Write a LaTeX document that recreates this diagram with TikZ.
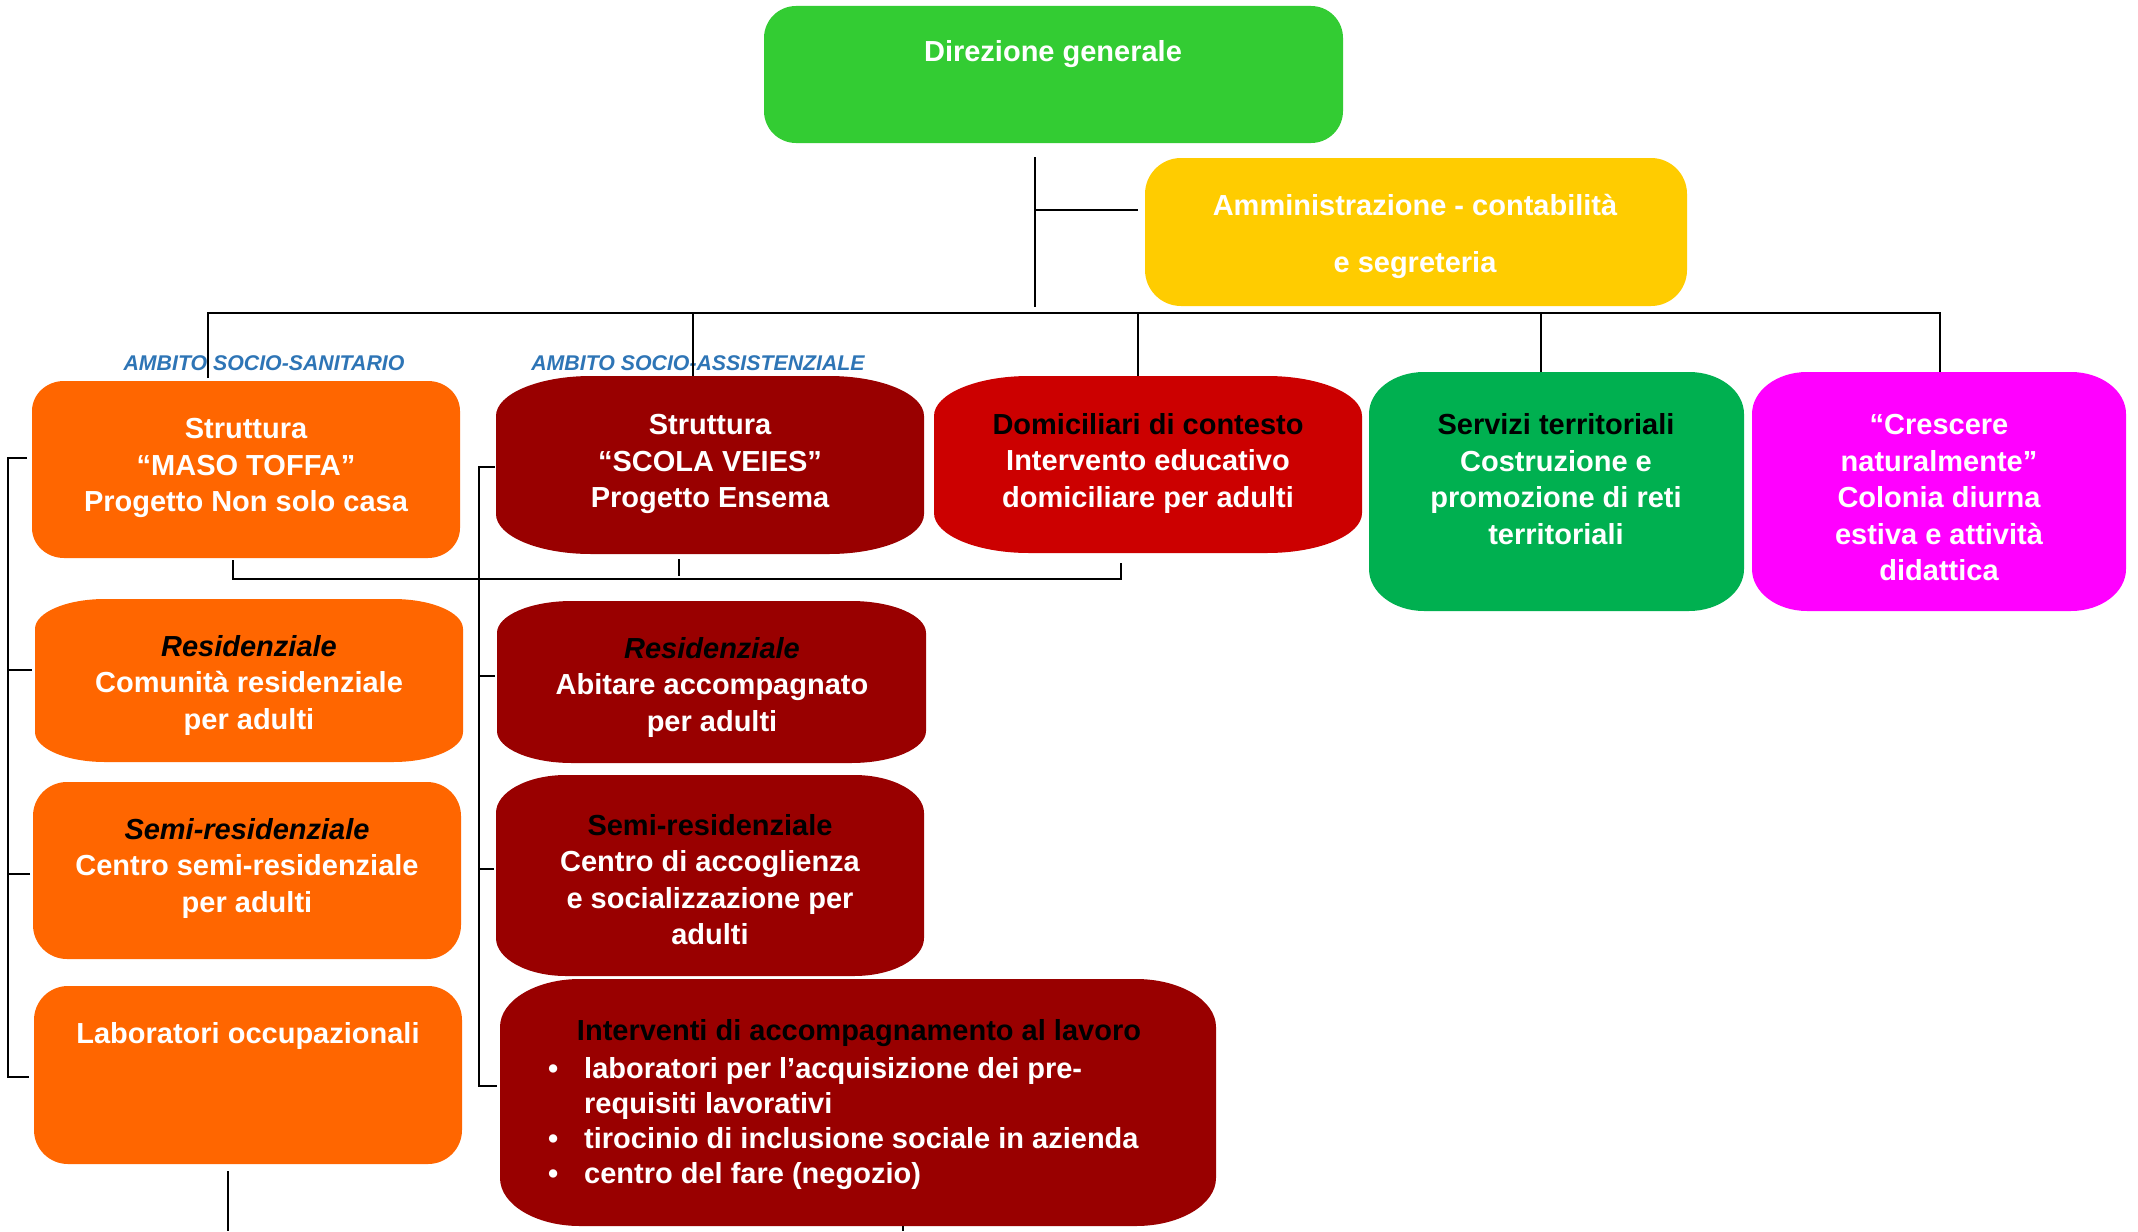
\documentclass[tikz,border=0pt]{standalone}
\usepackage{fontspec}
\setmainfont{Liberation Sans}
\usetikzlibrary{calc}
\definecolor{cgreen}{HTML}{33CC33}
\definecolor{cyellow}{HTML}{FFCC00}
\definecolor{corange}{HTML}{FF6600}
\definecolor{cdark}{HTML}{990000}
\definecolor{cred}{HTML}{CC0000}
\definecolor{cgreentwo}{HTML}{00B050}
\definecolor{cmag}{HTML}{FF00FF}
\definecolor{cblue}{HTML}{2E75B6}
% elliptical-corner fill behind an empty node
\newcommand\ebox[4]{%
 \fill[#2] ([xshift=#3]#1.north west) -- ([xshift=-#3]#1.north east)
   arc[start angle=90,end angle=0,x radius=#3,y radius=#4]
   -- ([yshift=#4]#1.south east)
   arc[start angle=0,end angle=-90,x radius=#3,y radius=#4]
   -- ([xshift=#3]#1.south west)
   arc[start angle=270,end angle=180,x radius=#3,y radius=#4]
   -- ([yshift=-#4]#1.north west)
   arc[start angle=180,end angle=90,x radius=#3,y radius=#4] -- cycle;}
% name, x1, y1, x2, y2, colour, rx, ry
\newcommand\mkbox[8]{%
 \node[inner sep=0pt,outer sep=0pt,minimum width={#4-#2},minimum height={#5-#3}]
   (#1) at ({(#2+#4)/2},{-(#3+#5)/2}) {};
 \ebox{#1}{#6}{#7}{#8}}
\begin{document}
\begin{tikzpicture}[x=1pt,y=1pt,
  txt/.style={align=center,text=white,inner sep=0pt,font=\bfseries\fontsize{29}{36.5}\selectfont},
  conn/.style={draw=black,line width=2pt},
  amb/.style={text=cblue,inner sep=0pt,font=\bfseries\itshape\fontsize{21.3}{25}\selectfont}]
\useasboundingbox (0,0) rectangle (2138,-1231);
\fill[white] (0,0) rectangle (2138,-1231);

% ---------- boxes ----------
\mkbox{dir}{764}{6}{1343}{143}{cgreen}{32}{32}
\mkbox{amm}{1145}{158}{1687}{306}{cyellow}{36}{36}
\mkbox{maso}{32}{381}{460}{558}{corange}{32}{30}
\mkbox{scola}{496}{376}{924}{554}{cdark}{95}{40}
\mkbox{dom}{934}{376}{1362}{553}{cred}{95}{40}
\mkbox{serv}{1369}{372}{1744}{611}{cgreentwo}{55}{42}
\mkbox{cres}{1752}{372}{2126}{611}{cmag}{55}{42}
\mkbox{reso}{35}{599}{463}{762}{corange}{70}{30}
\mkbox{semio}{33}{782}{461}{959}{corange}{34}{34}
\mkbox{lab}{34}{986}{462}{1164}{corange}{34}{34}
\mkbox{resd}{497}{601}{926}{763}{cdark}{75}{32}
\mkbox{semid}{496}{775}{924}{976}{cdark}{70}{38}
\mkbox{inter}{500}{979}{1216}{1226}{cdark}{80}{48}

% ---------- texts ----------
\node[txt] (tdir) at (1053,-54) {Direzione generale};
\node[txt,font=\bfseries\fontsize{29}{57}\selectfont] (tamm) at (1415,-236)
  {Amministrazione - contabilità\\e segreteria};
\node[amb] (lsan) at (264,-363) {AMBITO SOCIO-SANITARIO};
\node[amb] (lass) at (698,-363) {AMBITO SOCIO-ASSISTENZIALE};
\node[txt] (tmaso) at (246,-468) {Struttura\\“MASO TOFFA”\\Progetto Non solo casa};
\node[txt] (tscola) at (710,-464) {Struttura\\“SCOLA VEIES”\\Progetto Ensema};
\node[txt] (tdom) at (1148,-463) {\textcolor{black}{Domiciliari di contesto}\\Intervento educativo\\domiciliare per adulti};
\node[txt] (tserv) at (1556,-479) {\textcolor{black}{Servizi territoriali}\\Costruzione e\\promozione di reti\\territoriali};
\node[txt] (tcres) at (1939,-498) {“Crescere\\naturalmente”\\Colonia diurna\\estiva e attività\\didattica};
\node[txt] (treso) at (249,-685) {\textcolor{black}{\itshape Residenziale}\\Comunità residenziale\\per adulti};
\node[txt] (tsemio) at (247,-868) {\textcolor{black}{\itshape Semi-residenziale}\\Centro semi-residenziale\\per adulti};
\node[txt] (tlab) at (248,-1036) {Laboratori occupazionali};
\node[txt] (tresd) at (712,-687) {\textcolor{black}{\itshape Residenziale}\\Abitare accompagnato\\per adulti};
\node[txt] (tsemid) at (710,-879.5) {\textcolor{black}{Semi-residenziale}\\Centro di accoglienza\\e socializzazione per\\adulti};
\node[txt,text=black] (tinter) at (859,-1033) {Interventi di accompagnamento al lavoro};
\node[txt,align=left,anchor=west,font=\bfseries\fontsize{29}{35}\selectfont] (tlist) at (584,-1124)
  {\llap{\textbullet\hspace{26pt}}laboratori per l’acquisizione dei pre-\\
   requisiti lavorativi\\
   \llap{\textbullet\hspace{26pt}}tirocinio di inclusione sociale in azienda\\
   \llap{\textbullet\hspace{26pt}}centro del fare (negozio)};

% ---------- connectors ----------
\coordinate (j0) at ([xshift=-19pt,yshift=-14pt]dir.south);
\coordinate (ybus) at (0,-313);
\coordinate (yend) at (0,-307);
\coordinate (yamm) at (0,-210);
\coordinate (aend) at ([xshift=-7pt]amm.west);
\draw[conn] (j0) -- (j0 |- yend);
\draw[conn] (j0 |- yamm) -- (aend |- yamm);

\coordinate (d1) at ([xshift=-38pt,yshift=3pt]maso.north);
\coordinate (d2) at ([xshift=-17pt]scola.north);
\coordinate (d3) at ([xshift=-10pt]dom.north);
\coordinate (d4) at ([xshift=-16pt]serv.north);
\coordinate (d5) at ([xshift=1pt]cres.north);
\draw[conn] (d1) -- (d1 |- ybus) -- (d5 |- ybus) -- (d5);
\draw[conn] (d2 |- ybus) -- (d2);
\draw[conn] (d3 |- ybus) -- (d3);
\draw[conn] (d4 |- ybus) -- (d4);

% row link under first boxes
\coordinate (yrow) at (0,-579);
\coordinate (ra) at ([xshift=-13pt,yshift=-2pt]maso.south);
\coordinate (rb) at ([xshift=-27pt,yshift=-10pt]dom.south);
\draw[conn] (ra) -- (ra |- yrow) -- (rb |- yrow) -- (rb);
\coordinate (rc) at ([xshift=-31pt,yshift=-5pt]scola.south);
\draw[conn] (rc) -- ++(0,-17);

% left bracket (socio-sanitario)
\coordinate (lbx) at (8,0);
\coordinate (l1) at ([xshift=-5pt,yshift=12pt]maso.west);
\coordinate (l4) at ([xshift=-5pt,yshift=-2pt]lab.west);
\draw[conn] (l1) -- (l1 -| lbx) |- (l4);
\coordinate (l2) at ([xshift=-3pt,yshift=11pt]reso.west);
\draw[conn] (l2) -- (l2 -| lbx);
\coordinate (l3) at ([xshift=-3pt,yshift=-3.5pt]semio.west);
\draw[conn] (l3) -- (l3 -| lbx);

% right bracket (socio-assistenziale)
\coordinate (rbx) at (479,0);
\coordinate (s1) at ([xshift=-1pt,yshift=-2pt]scola.west);
\coordinate (s4) at ([xshift=-3pt,yshift=16.5pt]inter.west);
\draw[conn] (s1) -- (s1 -| rbx) |- (s4);
\coordinate (s2) at ([xshift=-2pt,yshift=6pt]resd.west);
\draw[conn] (s2) -- (s2 -| rbx);
\coordinate (s3) at ([xshift=-2pt,yshift=6.5pt]semid.west);
\draw[conn] (s3) -- (s3 -| rbx);

% lines leaving the picture at the bottom
\coordinate (b1) at ([xshift=-20pt,yshift=-7pt]lab.south);
\coordinate (ybot) at (0,-1231);
\draw[conn] (b1) -- (b1 |- ybot);
\coordinate (b2) at ([xshift=45pt]inter.south);
\draw[conn] (b2) -- (b2 |- ybot);
\end{tikzpicture}
\end{document}
